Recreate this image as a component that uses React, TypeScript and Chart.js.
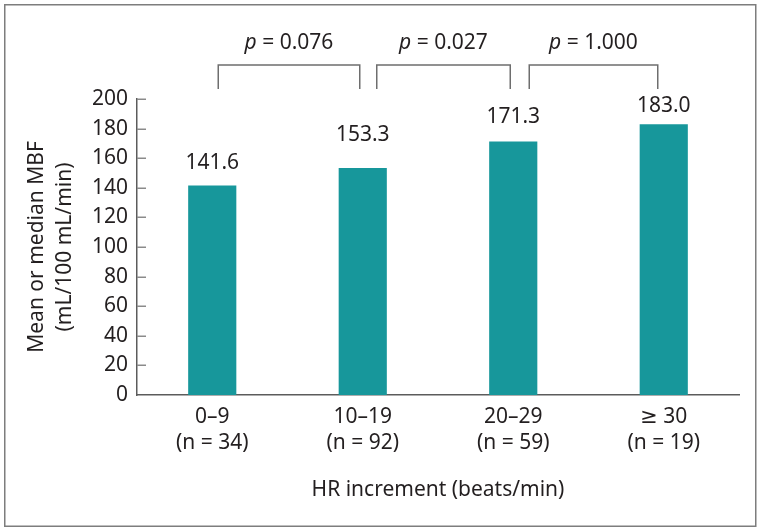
import React, { useEffect, useRef } from "react";
import { Chart, registerables } from "chart.js";

Chart.register(...registerables);

const categories: string[][] = [
  ["0–9", "(n = 34)"],
  ["10–19", "(n = 92)"],
  ["20–29", "(n = 59)"],
  ["≥ 30", "(n = 19)"],
];
const values: number[] = [141.6, 153.3, 171.3, 183.0];
const valueLabels: string[] = ["141.6", "153.3", "171.3", "183.0"];
const pValues: string[] = ["0.076", "0.027", "1.000"];
const yTitle: string[] = ["Mean or median MBF", "(mL/100 mL/min)"];
const xTitle = "HR increment (beats/min)";

const FONT = "'Noto Sans', 'DejaVu Sans', sans-serif";
const FS = 21;
const TEXT = "#231f20";
const BAR = "#17979b";
const AXIS = "#5c5c5c";
const BRACKET = "#6e6e6e";

// label offsets above bar tops (px)
const labelOffsets = [22, 33, 24, 18];
// bracket end insets from category centres (px)
const bracketStart = [6, 14, 16];
const bracketEnd = [3, 3, 6];

const decorPlugin = {
  id: "decor",
  afterDraw(chart: any) {
    const ctx = chart.ctx;
    const area = chart.chartArea;
    const xs = chart.scales.x;
    const ys = chart.scales.y;
    ctx.save();

    // frame
    ctx.strokeStyle = "#7d7d7d";
    ctx.lineWidth = 1.5;
    ctx.strokeRect(4.75, 4.75, 751, 521.5);

    // inward y ticks
    ctx.strokeStyle = "#8a8a8a";
    ctx.lineWidth = 1.5;
    for (const t of ys.ticks) {
      const y = Math.round(ys.getPixelForValue(t.value)) + 0.25;
      if (t.value === 0) continue;
      ctx.beginPath();
      ctx.moveTo(area.left, y);
      ctx.lineTo(area.left + 9, y);
      ctx.stroke();
    }

    // value labels
    ctx.fillStyle = TEXT;
    ctx.font = `${FS}px ${FONT}`;
    ctx.textAlign = "center";
    ctx.textBaseline = "middle";
    const meta = chart.getDatasetMeta(0);
    meta.data.forEach((bar: any, i: number) => {
      ctx.fillText(valueLabels[i], bar.x, bar.y - labelOffsets[i]);
    });

    // brackets
    const topY = area.top - 34;
    const legY = area.top - 10;
    ctx.strokeStyle = BRACKET;
    ctx.lineWidth = 1.5;
    pValues.forEach((p, i) => {
      const x1 = xs.getPixelForValue(i) + bracketStart[i];
      const x2 = xs.getPixelForValue(i + 1) - bracketEnd[i];
      ctx.beginPath();
      ctx.moveTo(x1, legY);
      ctx.lineTo(x1, topY);
      ctx.lineTo(x2, topY);
      ctx.lineTo(x2, legY);
      ctx.stroke();

      const cx = (x1 + x2) / 2;
      const ty = area.top - 56;
      const italic = `italic ${FS}px ${FONT}`;
      const normal = `${FS}px ${FONT}`;
      ctx.font = italic;
      const wp = ctx.measureText("p").width;
      ctx.font = normal;
      const rest = " = " + p;
      const wr = ctx.measureText(rest).width;
      const start = cx - (wp + wr) / 2;
      ctx.textAlign = "left";
      ctx.font = italic;
      ctx.fillText("p", start, ty);
      ctx.font = normal;
      ctx.fillText(rest, start + wp, ty);
    });
    ctx.restore();
  },
};

export default function App() {
  const ref = useRef<HTMLCanvasElement | null>(null);
  useEffect(() => {
    if (!ref.current) return;
    const chart = new Chart(ref.current, {
      type: "bar",
      data: {
        labels: categories,
        datasets: [
          {
            data: values,
            backgroundColor: BAR,
            borderWidth: 0,
            barPercentage: 0.32,
            categoryPercentage: 1,
          },
        ],
      },
      options: {
        responsive: false,
        animation: false,
        devicePixelRatio: 1,
        layout: { padding: { top: 99, right: 22, bottom: 0, left: 0 } },
        plugins: {
          legend: { display: false },
          tooltip: { enabled: false },
        },
        scales: {
          x: {
            grid: { display: false, drawTicks: false },
            border: { display: true, color: AXIS, width: 1.5 },
            ticks: {
              color: TEXT,
              font: { family: FONT, size: FS, lineHeight: 1.25 },
              padding: 9,
              maxRotation: 0,
              autoSkip: false,
            },
            title: {
              display: true,
              text: xTitle,
              color: TEXT,
              font: { family: FONT, size: FS, lineHeight: 1.2 },
              padding: { top: 0, bottom: 29 },
            },
            afterFit(scale: any) {
              scale.height = 137;
            },
          },
          y: {
            min: 0,
            max: 200,
            grid: { display: false, drawTicks: false },
            border: { display: true, color: AXIS, width: 1.5 },
            ticks: {
              stepSize: 20,
              color: TEXT,
              font: { family: FONT, size: FS },
              padding: 9,
            },
            title: {
              display: true,
              text: yTitle,
              color: TEXT,
              font: { family: FONT, size: FS, lineHeight: 1.333 },
              padding: { top: 23, bottom: 0 },
            },
            afterFit(scale: any) {
              scale.width = 137;
            },
          },
        },
      },
      plugins: [decorPlugin],
    });
    return () => chart.destroy();
  }, []);
  return (
    <div style={{ position: "fixed", left: 0, top: 0, width: 761, height: 532, background: "#fff" }}>
      <canvas ref={ref} width={761} height={532} style={{ display: "block" }} />
    </div>
  );
}
